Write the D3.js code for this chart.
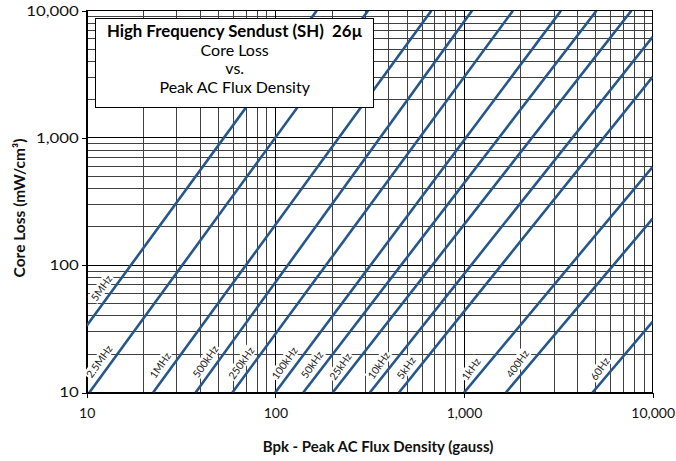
<!DOCTYPE html>
<html><head><meta charset="utf-8">
<script src="https://cdn.jsdelivr.net/npm/d3@7"></script>
<style>
body{margin:0;background:#fff}
svg text{font-family:Lato,"Open Sans",sans-serif;white-space:pre}
</style>
</head><body>
<svg id="c" width="676" height="461"></svg>
<script>
// ---- data ----
const freqLabels = ["5MHz","2.5MHz","1MHz","500kHz","250kHz","100kHz","50kHz","25kHz","10kHz","5kHz","1kHz","400Hz","60Hz"];
// each curve is a straight line on log-log axes: start point and end point (gauss, mW/cm3)
const startB    = [10, 10.33, 22.5, 37.8, 59.2, 99.9, 140.6, 201.4, 317, 452, 1001, 1667, 4797];
const startLoss = [33.5, 10, 10, 10, 10, 10, 10, 10, 10, 10, 10, 10, 10];
const endB      = [165.6, 309.7, 671, 1102, 1816, 3265, 5035, 7709, 10000, 10000, 10000, 10000, 10000];
const endLoss   = [10000, 10000, 10000, 10000, 10000, 10000, 10000, 10000, 6237, 3027, 594, 233, 36];
// loss level at which each frequency label sits
const labelLoss = [66, 17.5, 16.3, 17.5, 17, 17, 16.5, 16, 16.3, 15.6, 15.3, 16.8, 15.3];
const majorTicks = [10, 100, 1000, 10000];
const minorMult = [2,3,4,5,6,7,8,9];
const titleLines = ["High Frequency Sendust (SH)  26µ", "Core Loss", "vs.", "Peak AC Flux Density"];
const xTitle = "Bpk - Peak AC Flux Density (gauss)";
const yTitle = "Core Loss (mW/cm³)";

// ---- layout ----
const L = 86.7, R = 652.7, T = 10.7, B = 392.5;
const x = d3.scaleLog().domain([10, 10000]).range([L, R]);
const y = d3.scaleLog().domain([10, 10000]).range([B, T]);
const svg = d3.select("#c");

const gridVals = [];
[10, 100, 1000].forEach(d => minorMult.forEach(k => gridVals.push(k * d)));

const grid = svg.append("g").attr("shape-rendering", "crispEdges");
grid.selectAll(".vm").data(gridVals).join("line")
  .attr("x1", d => x(d)).attr("x2", d => x(d)).attr("y1", T).attr("y2", B)
  .attr("stroke", "#404040").attr("stroke-width", 1);
grid.selectAll(".hm").data(gridVals).join("line")
  .attr("y1", d => y(d)).attr("y2", d => y(d)).attr("x1", L).attr("x2", R)
  .attr("stroke", "#404040").attr("stroke-width", 1);
grid.selectAll(".vM").data(majorTicks).join("line")
  .attr("x1", d => x(d)).attr("x2", d => x(d)).attr("y1", T).attr("y2", B)
  .attr("stroke", "#000").attr("stroke-width", 1);
grid.selectAll(".hM").data(majorTicks).join("line")
  .attr("y1", d => y(d)).attr("y2", d => y(d)).attr("x1", L).attr("x2", R)
  .attr("stroke", "#000").attr("stroke-width", 1);

// axes
const fmt = d3.format(",");
const ax = svg.append("g").attr("transform", `translate(0,${B})`)
  .call(d3.axisBottom(x).tickValues(majorTicks).tickFormat(fmt).tickSize(5).tickPadding(11));
const ay = svg.append("g").attr("transform", `translate(${L},0)`)
  .call(d3.axisLeft(y).tickValues(majorTicks).tickFormat(fmt).tickSize(5).tickPadding(3));
[ax, ay].forEach(a => {
  a.select(".domain").attr("stroke", "#000").attr("shape-rendering", "crispEdges");
  a.selectAll(".tick line").attr("stroke", "#000").attr("shape-rendering", "crispEdges");
  a.selectAll("text").attr("font-family", "Lato, sans-serif").attr("fill", "#111");
});
ax.selectAll("text").attr("font-size", 14);
ay.selectAll("text").attr("font-size", 14).attr("transform", function(){
  const b = this.getBBox(); const xr = b.x + b.width; return `translate(${xr},0) scale(1.2,1) translate(${-xr},0)`;
});
// frame
svg.append("rect").attr("x", L).attr("y", T).attr("width", R - L).attr("height", B - T)
  .attr("fill", "none").attr("stroke", "#000").attr("shape-rendering", "crispEdges");

// curves
svg.append("clipPath").attr("id", "clp").append("rect")
  .attr("x", L).attr("y", T).attr("width", R - L).attr("height", B - T);
const series = freqLabels.map((f, i) => ({f, pts: [[startB[i], startLoss[i]], [endB[i], endLoss[i]]], lab: labelLoss[i]}));
const line = d3.line().x(d => x(d[0])).y(d => y(d[1]));
svg.append("g").attr("clip-path", "url(#clp)").selectAll("path").data(series).join("path")
  .attr("d", d => line(d.pts)).attr("fill", "none").attr("stroke", "#25578d").attr("stroke-width", 2.6);

// labels
const labG = svg.append("g");
series.forEach(s => {
  const [p0, p1] = s.pts;
  const lx0 = Math.log10(p0[0]), ly0 = Math.log10(p0[1]), lx1 = Math.log10(p1[0]), ly1 = Math.log10(p1[1]);
  const t = (Math.log10(s.lab) - ly0) / (ly1 - ly0);
  const bx = Math.pow(10, lx0 + t * (lx1 - lx0));
  const cx = x(bx) - 12.5, cy = y(s.lab);
  const g = labG.append("g").attr("transform", `translate(${cx},${cy}) rotate(-55)`);
  const r = g.append("rect").attr("fill", "#fff");
  const tx = g.append("text").attr("text-anchor", "middle").attr("dy", "0.35em")
    .attr("font-size", 10.5).attr("fill", "#222").text(s.f);
  const bb = tx.node().getBBox();
  r.attr("x", bb.x - 1).attr("y", bb.y).attr("width", bb.width + 2).attr("height", bb.height);
});

// title box
const bx0 = 95.7, by0 = 18.3, bw = 277.5, bh = 89;
svg.append("rect").attr("x", bx0).attr("y", by0).attr("width", bw).attr("height", bh)
  .attr("fill", "#fff").attr("stroke", "#000").attr("stroke-width", 1).attr("shape-rendering", "crispEdges");
const tcx = 234.7;
const tys = [37.3, 56, 74.3, 92.7];
titleLines.forEach((tl, i) => {
  svg.append("text").attr("x", tcx).attr("y", tys[i]).attr("text-anchor", "middle")
    .attr("font-size", i === 0 ? 16.8 : 16).attr("font-weight", i === 0 ? "bold" : "normal").attr("fill", "#000").text(tl);
});

// axis titles
svg.append("text").attr("x", 378).attr("y", 451.5).attr("text-anchor", "middle")
  .attr("font-size", 15).attr("font-weight", "bold").attr("fill", "#111").text(xTitle);
svg.append("text").attr("transform", "translate(24.5,208) rotate(-90)").attr("text-anchor", "middle")
  .attr("font-size", 15.5).attr("font-weight", "bold").attr("fill", "#111").text(yTitle);
</script>
</body></html>
